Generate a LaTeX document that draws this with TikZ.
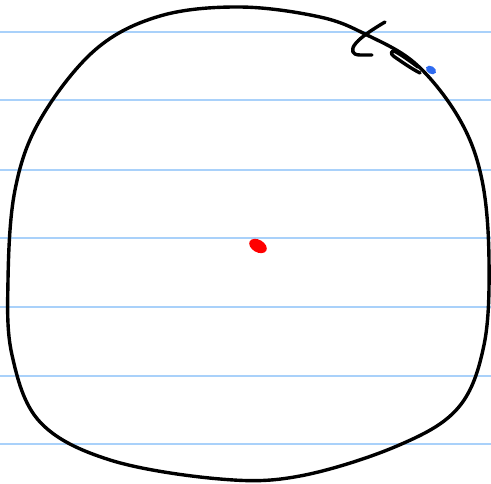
\documentclass[tikz,border=0pt]{standalone}
\definecolor{ruleblue}{HTML}{A9D1FA}
\definecolor{dotblue}{HTML}{2F6BF0}
\definecolor{dotred}{HTML}{FF0000}
\tikzset{
  ruleline/.style={draw=ruleblue,line width=1.6pt},
  ink/.style={draw=black,line width=3.4pt,line cap=round,line join=round},
}
\begin{document}
\begin{tikzpicture}[x=1pt,y=-1pt]
\useasboundingbox (0,0) rectangle (491,484);
\fill[white] (0,0) rectangle (491,484);
% ruled lines
\foreach \yy in {32,100,170,238,307,376,444}{
  \draw[ruleline] (0,\yy) -- (491,\yy);
}
% the hand-drawn circle
\draw[ink] plot[smooth cycle,tension=0.6] coordinates {
 (240,7) (320,17) (367,35) (417,65) (460,120) (482,180)
 (489,260) (484,345) (458,408) (397,446) (300,476) (220,479)
 (110,460) (40,422) (12,355) (8,280) (15,190) (40,120)
 (95,50) (160,16)};
% the letter t
\draw[ink] (385,22) .. controls (375,28) and (362,36) .. (356,43)
  .. controls (350,50) and (352,55) .. (360,55) -- (372,55);
% the small loop stroke
\draw[ink] (418,67) .. controls (410,61) and (400,54) .. (395,51.5)
  .. controls (391,50) and (390,54) .. (394,56.5)
  .. controls (402,62) and (412,69) .. (420,73);
% blue dot
\fill[dotblue,rotate around={-30:(431,70)}] (431,70) ellipse (5.5 and 3.8);
% red dot
\fill[dotred,rotate around={-30:(258,246)}] (258,246) ellipse (9.5 and 6.2);
\end{tikzpicture}
\end{document}
